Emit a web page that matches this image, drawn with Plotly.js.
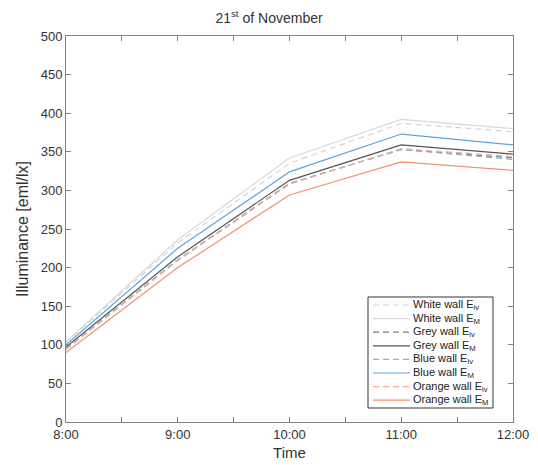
<!DOCTYPE html>
<html>
<head>
<meta charset="utf-8">
<script src="https://cdn.plot.ly/plotly-3.0.1.min.js"></script>
<style>html,body{margin:0;padding:0;background:#fff;}#chart{width:538px;height:465px;}</style>
</head>
<body>
<div id="chart"></div>
<script>
var hours = [8, 9, 10, 11, 12];
var tickVals = [8, 8.5, 9, 9.5, 10, 10.5, 11, 11.5, 12];
var tickText = ["8:00", "", "9:00", "", "10:00", "", "11:00", "", "12:00"];

var whiteLv  = [103, 232, 335, 387, 376];
var whiteM   = [104, 236, 342, 392, 380];
var greyLv   = [95, 210, 309, 353, 342];
var greyM    = [97, 214, 313, 359, 347];
var blueLv   = [95, 210, 309, 353, 340];
var blueM    = [100, 225, 324, 373, 359];
var orangeLv = [94, 209, 308, 354, 344];
var orangeM  = [90, 200, 294, 337, 326];

var names = ["White wall E<sub>lv</sub>", "White wall E<sub>M</sub>",
             "Grey wall E<sub>lv</sub>", "Grey wall E<sub>M</sub>",
             "Blue wall E<sub>lv</sub>", "Blue wall E<sub>M</sub>",
             "Orange wall E<sub>lv</sub>", "Orange wall E<sub>M</sub>"];
var series = [whiteLv, whiteM, greyLv, greyM, blueLv, blueM, orangeLv, orangeM];
var colors = ["#d4d4d4", "#d9d9d9", "#808080", "#555555", "#7fb9e3", "#5aa5dc", "#f4ad90", "#f0926f"];
var dashes = ["6px,4px", "solid", "6px,4px", "solid", "6px,4px", "solid", "6px,4px", "solid"];

var traces = series.map(function(s, i) {
  return {
    x: hours, y: s, type: "scatter", mode: "lines", name: names[i], showlegend: false,
    line: {color: colors[i], width: 1.2, dash: dashes[i]}
  };
});

// plot-area geometry (pixels) for the hand-built legend box
var W = 538, H = 465, mL = 66, mR = 25, mT = 36, mB = 43;
var pw = W - mL - mR, ph = H - mT - mB;
function px(x) { return (x - mL) / pw; }
function py(y) { return (H - mB - y) / ph; }

var shapes = [{
  type: "rect", xref: "paper", yref: "paper",
  x0: px(368), x1: px(493), y0: py(408), y1: py(297),
  line: {color: "#333", width: 1}, fillcolor: "#fff", layer: "above"
}];
var annotations = [];
for (var i = 0; i < names.length; i++) {
  var yy = 305 + i * 13.6;
  shapes.push({
    type: "line", xref: "paper", yref: "paper",
    x0: px(373), x1: px(410), y0: py(yy), y1: py(yy),
    line: {color: colors[i], width: 1.2, dash: dashes[i]}, layer: "above"
  });
  annotations.push({
    xref: "paper", yref: "paper", x: px(411), y: py(yy),
    xanchor: "left", yanchor: "middle", showarrow: false,
    text: names[i], font: {size: 11, color: "#222"}
  });
}

var layout = {
  width: W, height: H,
  margin: {l: mL, r: mR, t: mT, b: mB},
  paper_bgcolor: "#fff", plot_bgcolor: "#fff",
  font: {family: "Liberation Sans, Arial, sans-serif", color: "#333", size: 13},
  title: {text: "21<sup>st</sup> of November", font: {size: 14, color: "#333"}, x: 0.5, xanchor: "center", y: 0.962, yanchor: "middle"},
  showlegend: false,
  shapes: shapes,
  annotations: annotations,
  xaxis: {
    range: [8, 12], tickvals: tickVals, ticktext: tickText,
    ticks: "inside", ticklen: 5, tickcolor: "#808080",
    showline: true, linecolor: "#808080", mirror: "ticks", showgrid: false, zeroline: false,
    title: {text: "Time", font: {size: 15, color: "#333"}, standoff: 6},
    tickfont: {size: 13, color: "#333"}
  },
  yaxis: {
    range: [0, 500], dtick: 50,
    ticks: "inside", ticklen: 5, tickcolor: "#808080",
    showline: true, linecolor: "#808080", mirror: "ticks", showgrid: false, zeroline: false,
    title: {text: "Illuminance [eml/lx]", font: {size: 16, color: "#333"}, standoff: 8},
    tickfont: {size: 13, color: "#333"}
  }
};

Plotly.newPlot("chart", traces, layout, {displayModeBar: false, staticPlot: true});
</script>
</body>
</html>
